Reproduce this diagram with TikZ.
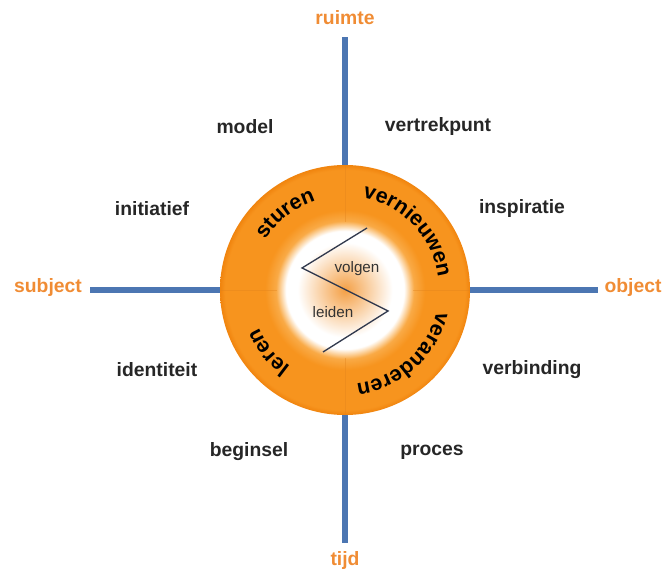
\documentclass[tikz,border=0pt]{standalone}
\usepackage{fontspec}
\setmainfont{Liberation Sans}
\usepackage{xcolor}
\usetikzlibrary{positioning, decorations.text, shapes}

\definecolor{ringorange}{RGB}{247,148,30}
\definecolor{ringlight}{RGB}{249,170,70}
\definecolor{ringdark}{RGB}{240,132,14}
\definecolor{coreorange}{RGB}{244,160,70}
\definecolor{axisblue}{RGB}{76,118,178}
\definecolor{poleorange}{RGB}{240,140,52}
\definecolor{zigcol}{RGB}{50,58,78}

% the path covers the middle 50bp of the shading
\pgfdeclareradialshading{ringshade}{\pgfpoint{0bp}{0bp}}{color(0bp)=(coreorange); color(9.5bp)=(white); color(11.8bp)=(white); color(13.8bp)=(ringlight); color(16bp)=(ringorange); color(24bp)=(ringorange); color(25bp)=(ringdark); color(50bp)=(ringdark)}

\newcommand{\ringfont}{\fontsize{16pt}{16pt}\selectfont\bfseries}

\begin{document}
\begin{tikzpicture}[
    x=0.75pt, y=0.75pt,
    axis/.style={draw=axisblue, line width=4pt},
    word/.style={font=\fontsize{14.5pt}{16pt}\selectfont\bfseries, text=black!85},
    pole/.style={word, text=poleorange},
    innerword/.style={font=\fontsize{11.4pt}{13pt}\selectfont, text=black!80},
    divider/.style={draw=ringdark!70!brown, line width=0.4pt, opacity=0.4},
    zig/.style={draw=zigcol, line width=1pt},
    ringword/.style={decorate, decoration={text along path, text align=center, text={|\ringfont|#1}}}
]
\useasboundingbox (0,0) rectangle (666,571);

% ring with the white core
\node[circle, inner sep=0pt, minimum size=187.5pt, shade, shading=ringshade] (ring) at (345,281) {};
\foreach \a in {0,90,180,270}
    \draw[divider] (ring.center) ++(\a:68) -- (ring.\a);

% axes
\coordinate (top) at (345,534);
\coordinate (bottom) at (345,28);
\coordinate (left) at (90,281);
\coordinate (right) at (598,281);
\draw[axis] (ring.north) -- (top);
\draw[axis] (ring.south) -- (bottom);
\draw[axis] (ring.west) -- (left);
\draw[axis] (ring.east) -- (right);

\node[pole] (ruimte) at (345,553) {ruimte};
\node[pole] (tijd) at (345,11) {tijd};
\node[pole] (subject) at (48,283) {subject};
\node[pole] (object) at (633,283) {object};

% quadrant words
\node[word] (model) at (245,444) {model};
\node[word] (vertrekpunt) at (438,444) {vertrekpunt};
\node[word] (initiatief) at (152,362) {initiatief};
\node[word] (inspiratie) at (522,362) {inspiratie};
\node[word] (identiteit) at (157,201) {identiteit};
\node[word] (verbinding) at (532,201) {verbinding};
\node[word] (beginsel) at (249,119) {beginsel};
\node[word] (proces) at (432,119) {proces};

% words on the ring
\path[ringword=sturen] (ring.center) ++(178:94) arc[start angle=178, end angle=78, radius=94];
\path[ringword=vernieuwen] (ring.center) ++(93.5:94) arc[start angle=93.5, end angle=-6.5, radius=94];
\path[ringword=veranderen] (ring.center) ++(2:94) arc[start angle=2, end angle=-98, radius=94];
\path[ringword=leren] (ring.center) ++(-91:94) arc[start angle=-91, end angle=-191, radius=94];

% core
\draw[zig] (ring.center) ++(22,62) -- ++(-65,-40) -- ++(86,-43) -- ++(-65,-41);
\node[innerword] (volgen) at (357,302) {volgen};
\node[innerword] (leiden) at (333,259) {leiden};
\end{tikzpicture}
\end{document}
